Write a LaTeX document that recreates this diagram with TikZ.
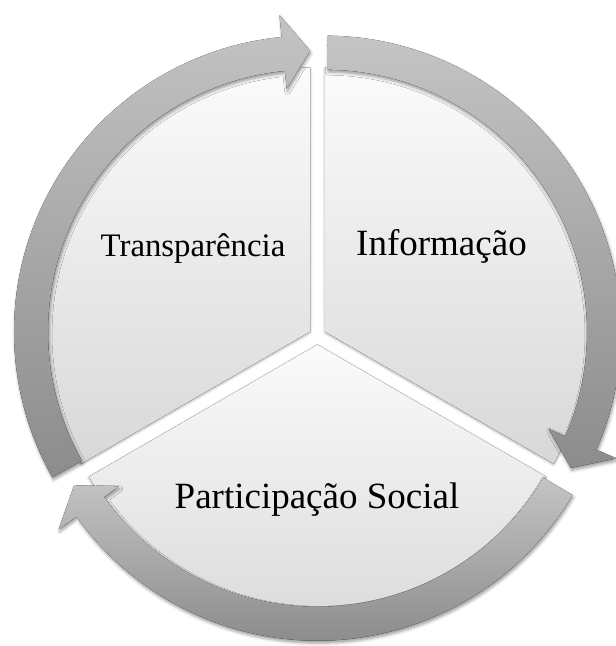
\documentclass[tikz,border=0pt]{standalone}
\usepackage{fontspec}
\setmainfont{Liberation Serif}
\usepackage{tikz}
\usetikzlibrary{calc,shadows.blur}
\definecolor{wedgeTop}{RGB}{251,251,251}
\definecolor{wedgeBottom}{RGB}{216,216,216}
\definecolor{bandTop}{RGB}{196,196,196}
\definecolor{bandBottom}{RGB}{140,140,140}
\tikzstyle{wedge} = [top color=wedgeTop, bottom color=wedgeBottom, blur shadow={shadow xshift=0pt, shadow yshift=-1pt, shadow blur radius=2.5pt, shadow opacity=35}]
\tikzstyle{band} = [top color=bandTop, bottom color=bandBottom, blur shadow={shadow xshift=1pt, shadow yshift=-2.5pt, shadow blur radius=3pt, shadow opacity=40}]
\tikzstyle{segmentText} = [anchor=base, inner sep=0pt, text=black]
\tikzstyle{smallText} = [segmentText, font=\fontsize{32.8}{39}\selectfont]
\tikzstyle{bigText} = [segmentText, font=\fontsize{37}{44}\selectfont]

\begin{document}
\begin{tikzpicture}[x=1pt, y=1pt]

\useasboundingbox (0,0) rectangle (616,646);

% Segment centres

	\coordinate (centerT) at (310,314.35);
	\coordinate (centerI) at (325,314.35);
	\coordinate (centerP) at (317.5,301.3);


% Segments

	\fill [wedge] (centerT) -- ++(90:264) arc[start angle=90, end angle=210, radius=264] -- cycle;
	\fill [wedge] (centerI) -- ++(-30:264) arc[start angle=-30, end angle=90, radius=264] -- cycle;
	\fill [wedge] (centerP) -- ++(210:264) arc[start angle=210, end angle=330, radius=264] -- cycle;


% Transparencia arrow

	\fill [band, shift={(centerT)}] (209.5:296) arc[start angle=209.5, end angle=95.5, radius=296]
		-- (95.5:318) -- (90:281) -- (95.5:244) -- (95.5:262)
		arc[start angle=95.5, end angle=209.5, radius=262] -- cycle;


% Informacao arrow

	\fill [band, shift={(centerI)}] (89.5:296) arc[start angle=89.5, end angle=-23.5, radius=296]
		-- (-23.5:318) -- (-29:281) -- (-23.5:244) -- (-23.5:262)
		arc[start angle=-23.5, end angle=89.5, radius=262] -- cycle;


% Participacao arrow

	\fill [band, shift={(centerP)}] (-30.5:296) arc[start angle=-30.5, end angle=-144.5, radius=296]
		-- (-144.5:318) -- (-150:281) -- (-144.5:244) -- (-144.5:262)
		arc[start angle=-144.5, end angle=-30.5, radius=262] -- cycle;


% Texts

	\node (transparencia) [smallText] at (193,389) {Transparência};

	\node (informacao) [bigText] at (441.5,390) {Informação};

	\node (participacaoSocial) [bigText] at (317,137) {Participação Social};

\end{tikzpicture}
\end{document}
